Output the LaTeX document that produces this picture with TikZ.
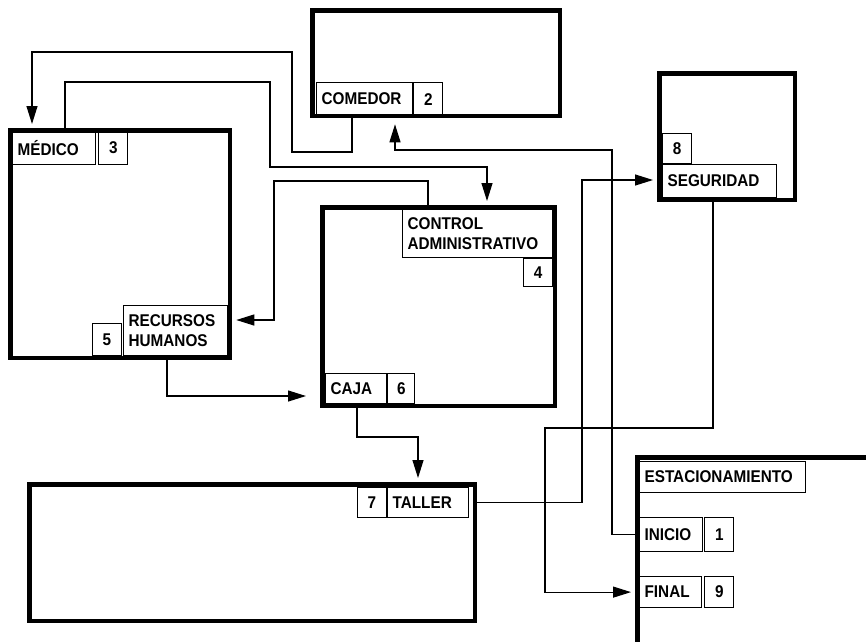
\documentclass[tikz,border=0pt]{standalone}
\usepackage{fontspec}
\setmainfont[FakeStretch=0.9]{Liberation Sans}
\usetikzlibrary{arrows.meta,positioning}

\begin{document}
\begin{tikzpicture}[
    x=1pt, y=-1pt,
    font=\fontsize{17}{20}\selectfont\bfseries,
    node distance=2pt,
    room/.style={draw, line width=4.8pt, anchor=north west, inner sep=0pt},
    tag/.style={draw, line width=1.2pt, anchor=north west, align=left, inner xsep=5pt, inner ysep=0pt},
    num/.style={draw, line width=1.2pt, inner sep=0pt, minimum width=29pt},
    arrow/.style={-{Triangle[length=18pt, width=11pt]}, line width=1.2pt, shorten >=4pt}
  ]
  \useasboundingbox (0,0) rectangle (866,641);

  % Rooms
  \node[room, minimum width=247.5pt, minimum height=105.5pt] (comedor) at (310,8) {};
  \node[room, minimum width=219.5pt, minimum height=227.5pt] (medico) at (8,128) {};
  \node[room, minimum width=232.5pt, minimum height=198.5pt] (control) at (320,205) {};
  \node[room, minimum width=135.5pt, minimum height=126.5pt] (seguridad) at (657,71) {};
  \node[room, minimum width=445.5pt, minimum height=136.5pt] (taller) at (27,482) {};
  \node[room, minimum width=300pt, minimum height=250pt] (estac) at (635,455) {};

  % Labels
  \node[tag, text width=86pt, minimum height=33pt] (comedorlbl) at (316,82) {COMEDOR};
  \node[num, minimum height=33pt, right=0pt of comedorlbl] (comedorno) {2};

  \node[tag, text width=73pt, minimum height=33pt] (medicolbl) at (12,131) {MÉDICO};
  \node[num, minimum height=33pt, right=of medicolbl] (medicono) {3};

  \node[tag, text width=94pt, minimum height=50pt] (recursoslbl) at (123,305) {RECURSOS\\HUMANOS};
  \node[num, minimum height=32pt, anchor=south east] (recursosno) at ([xshift=-1pt]recursoslbl.south west) {5};

  \node[tag, text width=140pt, minimum height=48pt] (controllbl) at (402,209) {CONTROL\\ADMINISTRATIVO};
  \node[num, minimum height=28pt, anchor=north east] (controlno) at (controllbl.south east) {4};

  \node[tag, text width=51pt, minimum height=30pt] (cajalbl) at (325,373) {CAJA};
  \node[num, minimum height=30pt, minimum width=27pt, right=0pt of cajalbl] (cajano) {6};

  \node[tag, text width=104pt, minimum height=33pt] (seguridadlbl) at (662,164) {SEGURIDAD};
  \node[num, minimum height=30pt, anchor=south west] (seguridadno) at (seguridadlbl.north west) {8};

  \node[tag, text width=71pt, minimum height=30pt] (tallerlbl) at (387,487) {TALLER};
  \node[num, minimum height=30pt, left=0pt of tallerlbl] (tallerno) {7};

  \node[tag, text width=156pt, minimum height=31pt] (estaclbl) at (639,461) {ESTACIONAMIENTO};
  \node[tag, text width=53pt, minimum height=34pt] (iniciolbl) at (639,517) {INICIO};
  \node[num, minimum height=34pt, right=1pt of iniciolbl] (iniciono) {1};
  \node[tag, text width=52pt, minimum height=31pt] (finallbl) at (639,576) {FINAL};
  \node[num, minimum height=31pt, right=of finallbl] (finalno) {9};

  % Connectors
  \draw[arrow] (352,0 |- comedor.south) -- (352,152) -| (292,52) -| (32,0 |- medico.north);
  \draw[arrow] (65,0 |- medico.north) |- (270,82) |- (487,167) -- (487,0 |- control.north);
  \draw[arrow] (428,0 |- control.north) |- (274,181) |- (medico.east |- 0,320);
  \draw[arrow, shorten >=14pt] (167,0 |- medico.south) |- (control.west |- 0,396);
  \draw[arrow] (357,0 |- control.south) |- (418,437) -- (418,0 |- taller.north);
  \draw[arrow] (taller.east |- tallerlbl) -| (582,180) -- (seguridad.west |- 0,180);
  \draw[arrow] (713,0 |- seguridad.south) |- (545,428) |- (estac.west |- finallbl);
  \draw[arrow, shorten >=6pt] (estac.west |- iniciolbl) -| (612,150) -| (395,0 |- comedor.south);

\end{tikzpicture}
\end{document}
